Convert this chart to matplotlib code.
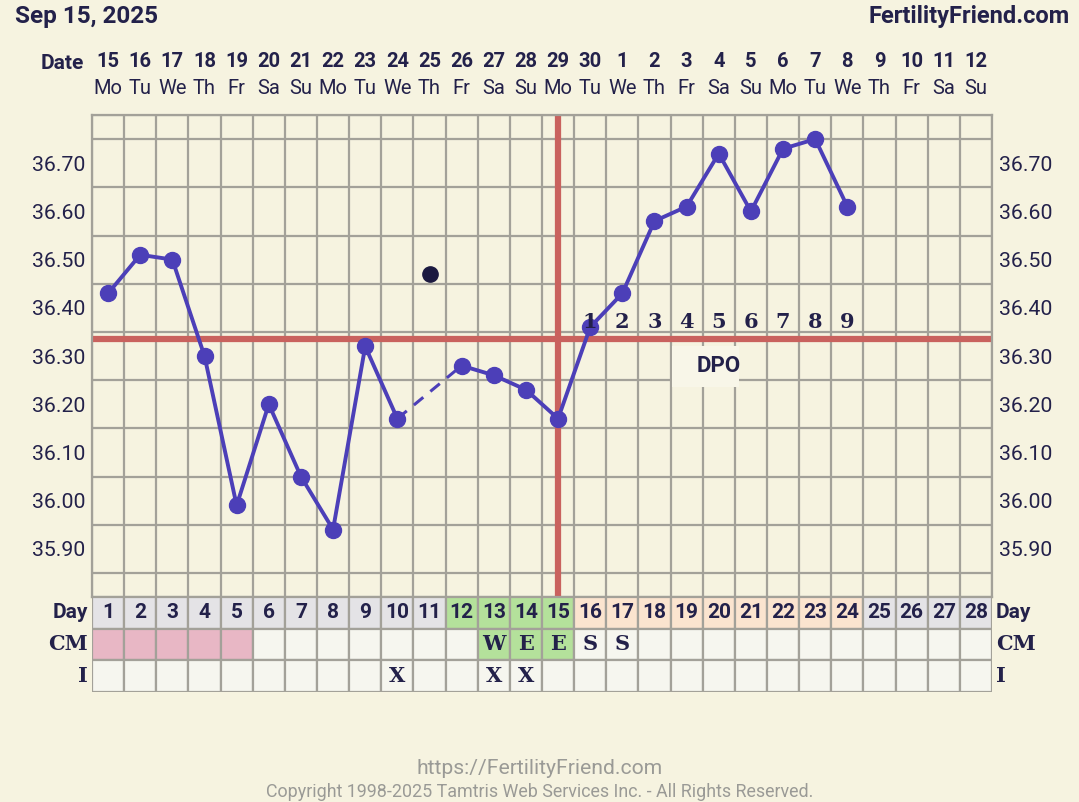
import matplotlib
matplotlib.use("Agg")
import matplotlib.pyplot as plt
import matplotlib.transforms as mtransforms
from matplotlib.patches import Rectangle
import numpy as np

# data
cycle_days = list(range(1, 29))
dates = [15, 16, 17, 18, 19, 20, 21, 22, 23, 24, 25, 26, 27, 28, 29, 30,
         1, 2, 3, 4, 5, 6, 7, 8, 9, 10, 11, 12]
weekdays = ["Mo", "Tu", "We", "Th", "Fr", "Sa", "Su"] * 4
temps = [36.43, 36.51, 36.50, 36.30, 35.99, 36.20, 36.05, 35.94, 36.32, 36.17,
         np.nan, 36.28, 36.26, 36.23, 36.17, 36.36, 36.43, 36.58, 36.61, 36.72,
         36.60, 36.73, 36.75, 36.61]
discarded_day = 11
discarded_temp = 36.47
coverline = 36.335
ovulation_day = 15
dpo_days = list(range(16, 25))
dpo_labels = [str(i) for i in range(1, 10)]
cm_obs = {13: "W", 14: "E", 15: "E", 16: "S", 17: "S"}
period_days = [1, 2, 3, 4, 5]
fertile_days = [12, 13, 14, 15]
luteal_days = list(range(16, 25))
intercourse_days = [10, 13, 14]
ytick_vals = [35.90, 36.00, 36.10, 36.20, 36.30, 36.40, 36.50, 36.60, 36.70]

BG = "#f6f3e0"
GRID = "#a3a199"
INK = "#23214a"
LINE = "#4c3fb8"
RED = "#c9625e"
CELL = "#f6f6ef"
GREY_CELL = "#e4e3e6"
GREEN = "#b4e19b"
PEACH = "#fbe4cf"
PINK = "#e8b7c5"
SLAB = ["DejaVu Serif"]
SANS = ["Roboto", "DejaVu Sans"]

plt.rcParams["font.family"] = SANS

fig = plt.figure(figsize=(10.79, 8.02), dpi=100, facecolor=BG)

L, R = 92 / 1079, 992 / 1079
ax = fig.add_axes([L, 1 - 597 / 802, R - L, (597 - 115) / 802])
ax.set_facecolor(BG)
ax.set_xlim(0.5, 28.5)
ax.set_ylim(35.80, 36.80)

# grid
ax.set_xticks(np.arange(0.5, 28.6, 1), minor=True)
ax.set_xticks([])
ax.set_yticks(np.arange(35.80, 36.81, 0.05), minor=True)
ax.set_yticks(ytick_vals)
ax.set_yticklabels([f"{v:.2f}" for v in ytick_vals])
ax.grid(which="minor", color=GRID, lw=1.6, zorder=0)
ax.tick_params(which="both", length=0)
ax.tick_params(axis="y", labelleft=True, labelright=True, labelsize=15.3,
               labelcolor=INK, pad=5)
for side in ax.spines.values():
    side.set_color(GRID)
    side.set_linewidth(1.6)

# coverline / ovulation
ax.axhline(coverline, color=RED, lw=4.5, zorder=2)
ax.axvline(ovulation_day, color=RED, lw=4.5, zorder=2)

# temperatures
d = np.array(cycle_days[:len(temps)])
t = np.array(temps)
ok = ~np.isnan(t)
ax.plot(d[:10], t[:10], color=LINE, lw=2.8, zorder=3)
ax.plot(d[11:], t[11:], color=LINE, lw=2.8, zorder=3)
ax.plot([d[9], d[11]], [t[9], t[11]], color=LINE, lw=2.2, ls=(0, (4, 3)), zorder=3)
ax.plot(d[ok], t[ok], "o", color=LINE, ms=11.5, zorder=4)
ax.plot([discarded_day], [discarded_temp], "o", color="#1b1940", ms=11, zorder=4)

# DPO
for dd, lab in zip(dpo_days, dpo_labels):
    ax.text(dd, 36.37, lab, ha="center", va="center", fontsize=15,
            fontweight="bold", color=INK, family=SLAB, zorder=5)
ax.add_patch(Rectangle((18.55, 36.236), 2.08, 0.084, fc="#f8f6e8", ec="none", zorder=1.8))
ax.text(20, 36.28, "DPO", ha="center", va="center", fontsize=16,
        fontweight="bold", color=INK, family=SANS, zorder=5)

# dates on top
tr = mtransforms.blended_transform_factory(ax.transData, ax.transAxes)
for dd, num, wd in zip(cycle_days, dates, weekdays):
    ax.text(dd, 1.110, str(num), transform=tr, ha="center", va="center",
            fontsize=14.5, fontweight="bold", color=INK)
    ax.text(dd, 1.054, wd, transform=tr, ha="center", va="center",
            fontsize=14.5, color=INK)
ax.text(-0.42, 1.106, "Date", transform=tr, ha="center", va="center",
        fontsize=15, fontweight="bold", color=INK)

# table
tb = fig.add_axes([L, 1 - 692 / 802, R - L, (692 - 597) / 802])
tb.set_xlim(0.5, 28.5)
tb.set_ylim(0, 3)
tb.axis("off")
day_colors = []
for dd in cycle_days:
    if dd in fertile_days:
        day_colors.append(GREEN)
    elif dd in luteal_days:
        day_colors.append(PEACH)
    else:
        day_colors.append(GREY_CELL)
cm_colors = [PINK if dd in period_days else GREEN if dd in cm_obs and dd <= ovulation_day
             else CELL for dd in cycle_days]
tb.bar(cycle_days, 1, bottom=2, width=1, color=day_colors, edgecolor=GRID, lw=1.6)
tb.bar(cycle_days, 1, bottom=1, width=1, color=cm_colors, edgecolor=GRID, lw=1.6)
tb.bar(cycle_days, 1, bottom=0, width=1, color=CELL, edgecolor=GRID, lw=1.6)
for dd in cycle_days:
    tb.text(dd, 2.5, str(dd), ha="center", va="center", fontsize=15,
            fontweight="bold", color=INK)
for dd, lab in cm_obs.items():
    tb.text(dd, 1.5, lab, ha="center", va="center", fontsize=15,
            fontweight="bold", color=INK, family=SLAB)
for dd in intercourse_days:
    tb.text(dd, 0.5, "X", ha="center", va="center", fontsize=15,
            fontweight="bold", color=INK, family=SLAB)
for y, lab, fam in [(2.5, "Day", SANS), (1.5, "CM", SLAB), (0.5, "I", SLAB)]:
    tb.text(0.38, y, lab, ha="right", va="center", fontsize=15,
            fontweight="bold", color=INK, family=fam)
    tb.text(28.62, y, lab, ha="left", va="center", fontsize=15,
            fontweight="bold", color=INK, family=fam)

# header / footer
fig.text(15 / 1079, 1 - 16 / 802, "Sep 15, 2025", ha="left", va="center",
         fontsize=17.5, fontweight="bold", color=INK)
fig.text(1070 / 1079, 1 - 16 / 802, "FertilityFriend.com", ha="right", va="center",
         fontsize=17, fontweight="bold", color=INK)
fig.text(0.5, 1 - 768 / 802, "https://FertilityFriend.com", ha="center", va="center",
         fontsize=15.2, color="#9a9a96")
fig.text(0.5, 1 - 792 / 802, "Copyright 1998-2025 Tamtris Web Services Inc. - All Rights Reserved.",
         ha="center", va="center", fontsize=12.9, color="#9a9a96")

fig.savefig("out.png", dpi=100, facecolor=BG)
